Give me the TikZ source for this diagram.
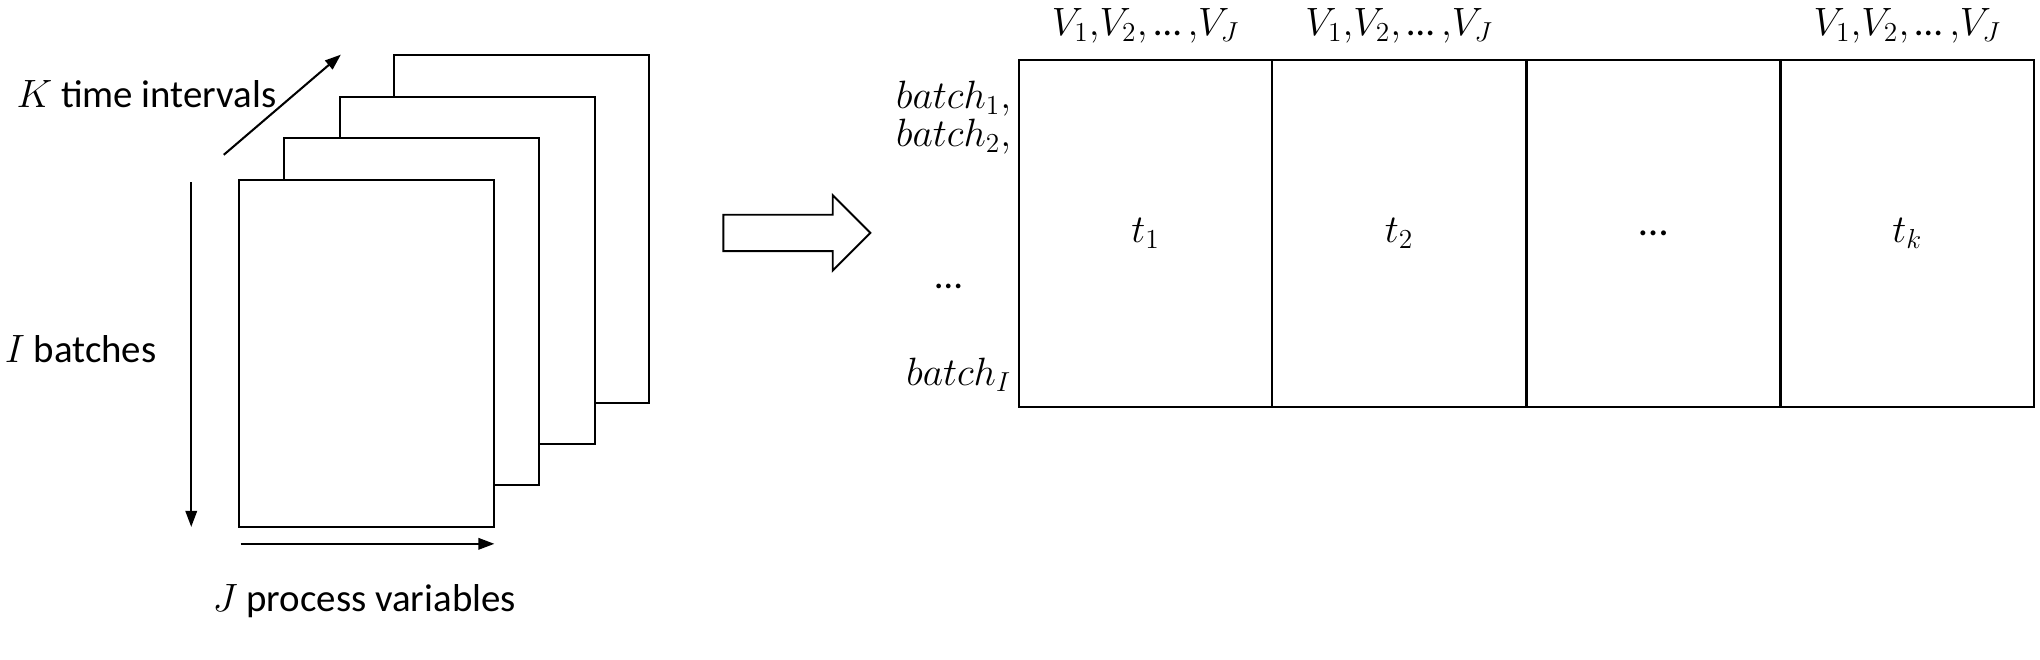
\documentclass[tikz,border=0pt]{standalone}
\usepackage{fontspec}
\setmainfont{Carlito}
\usetikzlibrary{arrows.meta}
\newcommand{\myell}{\mbox{…}}
\begin{document}
\begin{tikzpicture}[x=0.02cm,y=-0.02cm,
  line width=0.9pt,
  sheet/.style={draw,fill=white,rectangle,inner sep=0pt,minimum width=3.92cm,minimum height=5.34cm},
  cell/.style={draw,rectangle,inner sep=0pt,minimum width=3.9cm,minimum height=5.34cm,font=\fontsize{18}{21}\selectfont},
  lbl/.style={inner sep=0pt,font=\fontsize{17}{20}\selectfont},
  axis/.style={-{Triangle[length=7pt,width=5pt]}}]
\useasboundingbox (0,0) rectangle (1568,507);
% stacked sheets
\node[sheet] (s4) at (401,176) {};
\node[sheet] (s3) at (359,208) {};
\node[sheet] (s2) at (316.5,239.5) {};
\node[sheet] (s1) at (282,271.5) {};
% axes
\coordinate (ka) at (172,119);
\coordinate (kb) at (262,42);
\draw[axis] (ka) -- (kb);
\coordinate (ia) at (147,140);
\coordinate (ib) at (147,405);
\draw[axis] (ia) -- (ib);
\coordinate (ja) at (185,418);
\coordinate (jb) at (380,418);
\draw[axis] (ja) -- (jb);
\node[lbl,anchor=west] (kt) at (12,72) {$K$ time intervals};
\node[lbl,anchor=west] (it) at (3,268) {$I$ batches};
\node[lbl] (jt) at (280,462) {$J$ process variables};
% hollow arrow
\draw[line width=0.8pt] (556,165) -- (640,165) -- (640,150) -- (669,179) -- (640,208) -- (640,193) -- (556,193) -- cycle;
% table
\node[cell] (c1) at (880.5,179.5) {$t_1$};
\node[cell] (c2) at (1075.5,179.5) {$t_2$};
\node[cell] (c3) at (1271,179.5) {…};
\node[cell] (c4) at (1466,179.5) {$t_k$};
\node[lbl] (v1) at (880.5,20) {$V_1{,}V_2{,}\,\myell\,{,}V_J$};
\node[lbl] (v2) at (1075.5,20) {$V_1{,}V_2{,}\,\myell\,{,}V_J$};
\node[lbl] (v4) at (1466,20) {$V_1{,}V_2{,}\,\myell\,{,}V_J$};
\node[lbl,anchor=east] (b1) at (778,76) {$batch_1,$};
\node[lbl,anchor=east] (b2) at (778,105) {$batch_2,$};
\node[lbl] (bd) at (729,220) {…};
\node[lbl,anchor=east] (bi) at (778,288) {$batch_I$};
\end{tikzpicture}
\end{document}
